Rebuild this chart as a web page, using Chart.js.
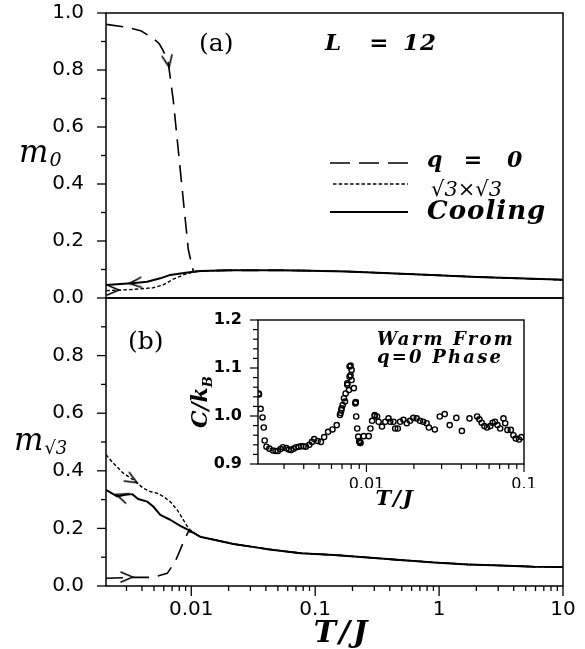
<!DOCTYPE html>
<html><head><meta charset="utf-8">
<script src="https://cdn.jsdelivr.net/npm/chart.js@4"></script>
<style>
html,body{margin:0;padding:0;background:#fff;}
#wrap{position:relative;width:585px;height:649px;overflow:hidden;background:#fff;}
#wrap canvas{position:absolute;left:0;top:0;}
</style></head><body>
<div id="wrap">
<canvas id="panelA" width="585" height="649"></canvas>
<canvas id="panelB" width="585" height="649"></canvas>
<canvas id="inset" width="585" height="649"></canvas>
</div>
<script>
// ---------- data ----------
const T_MIN = 0.00205, T_MAX = 10, T_INSET_MAX = 0.1;

// panel (a): q=0 order parameter m0
const tA_common = [0.0104, 0.012, 0.02, 0.04, 0.0525, 0.09, 0.18, 0.5, 0.855, 2, 5, 10];
const mA_common = [0.092, 0.095, 0.097, 0.097, 0.097, 0.096, 0.093, 0.085, 0.081, 0.074, 0.068, 0.064];
const tA_q0 = [0.00206, 0.003, 0.0039, 0.0049, 0.0055, 0.0059, 0.0065, 0.00715, 0.00785, 0.00862, 0.00946];
const mA_q0 = [0.960, 0.950, 0.938, 0.912, 0.893, 0.870, 0.830, 0.695, 0.520, 0.344, 0.170];
const tA_r3 = [0.00206, 0.0034, 0.00493, 0.00594, 0.00715, 0.00862];
const mA_r3 = [0.026, 0.030, 0.036, 0.046, 0.066, 0.081];
const tA_cool = [0.00206, 0.0035, 0.00441, 0.00562, 0.00676, 0.00846];
const mA_cool = [0.046, 0.053, 0.057, 0.069, 0.081, 0.087];

// panel (b): sqrt3 x sqrt3 order parameter
const tB_common = [0.0104, 0.0118, 0.0219, 0.0412, 0.0761, 0.141, 0.265, 0.489, 0.904, 1.70, 3.15, 5.82, 10];
const mB_common = [0.185, 0.171, 0.146, 0.128, 0.114, 0.108, 0.099, 0.090, 0.082, 0.075, 0.071, 0.067, 0.066];
const tB_q0 = [0.00205, 0.0034, 0.00493, 0.0064, 0.00742, 0.00846, 0.00946];
const mB_q0 = [0.027, 0.030, 0.030, 0.044, 0.085, 0.143, 0.189];
const tB_r3 = [0.00205, 0.00234, 0.00282, 0.0034, 0.00409, 0.00466, 0.00531, 0.00594, 0.00676, 0.00771, 0.00862, 0.00946];
const mB_r3 = [0.456, 0.427, 0.392, 0.369, 0.340, 0.328, 0.322, 0.311, 0.293, 0.264, 0.230, 0.201];
const tB_cool = [0.00205, 0.00252, 0.00293, 0.00333, 0.00373, 0.00441, 0.00493, 0.00562, 0.00676, 0.00815, 0.00946];
const mB_cool = [0.334, 0.311, 0.317, 0.319, 0.302, 0.293, 0.276, 0.247, 0.230, 0.209, 0.195];

// direction arrows along the runs
const arrowA_t = [0.0065, 0.00353, 0.00234];
const arrowA_m = [0.830, 0.053, 0.028];
const arrowB_t = [0.00332, 0.00275, 0.00302];
const arrowB_m = [0.369, 0.311, 0.031];

// inset: specific heat, warming from the q=0 phase
const tIn = [0.00207, 0.00208, 0.00213, 0.00219, 0.00223, 0.00226,
  0.00232, 0.00242, 0.00255, 0.00265, 0.00274, 0.00285, 0.00295, 0.00310, 0.00322, 0.00333,
  0.00345, 0.00358, 0.00372, 0.00385, 0.00399, 0.00413, 0.00434, 0.00451, 0.00466, 0.00490,
  0.00514, 0.00539, 0.00571, 0.00609, 0.00648, 0.00679, 0.00686, 0.00693, 0.00696, 0.00707,
  0.00720, 0.00731, 0.00738, 0.00756, 0.00756, 0.00774, 0.00782, 0.00782, 0.00793, 0.00793,
  0.00805, 0.00805, 0.00832, 0.00850, 0.00853, 0.00856, 0.00861, 0.00874, 0.00887, 0.00900,
  0.00904, 0.00910, 0.00917, 0.00962, 0.01034, 0.0106, 0.01086, 0.01128, 0.01130, 0.01168,
  0.01195, 0.01255, 0.01317, 0.01381, 0.01416, 0.01485, 0.01522, 0.01582, 0.01636, 0.01717,
  0.01803, 0.01891, 0.01984, 0.02084, 0.02186, 0.02293, 0.02409, 0.0249, 0.02716, 0.0292,
  0.0314, 0.03376, 0.0372, 0.04034, 0.04509, 0.0504, 0.0521, 0.05387, 0.05602, 0.05826,
  0.0611, 0.0632, 0.0654, 0.0679, 0.0706, 0.0741, 0.0760, 0.0785, 0.0825, 0.0857,
  0.0887, 0.0930, 0.0962];
const cIn = [1.047, 1.045, 1.015, 0.997, 0.976, 0.949,
  0.936, 0.932, 0.928, 0.927, 0.927, 0.931, 0.935, 0.933, 0.930, 0.929,
  0.932, 0.935, 0.936, 0.937, 0.937, 0.936, 0.940, 0.946, 0.952, 0.948,
  0.946, 0.956, 0.967, 0.972, 0.981, 1.002, 1.006, 1.012, 1.016, 1.023,
  1.037, 1.030, 1.047, 1.065, 1.068, 1.054, 1.082, 1.103, 1.085, 1.105,
  1.096, 1.075, 1.058, 1.026, 1.028, 1.029, 0.999, 0.974, 0.957, 0.948,
  0.946, 0.944, 0.944, 0.958, 0.958, 0.974, 0.990, 1.002, 1.000, 0.999,
  0.988, 0.978, 0.988, 0.995, 0.988, 0.988, 0.974, 0.974, 0.988, 0.992,
  0.985, 0.990, 0.996, 0.995, 0.990, 0.988, 0.985, 0.976, 0.972, 0.999,
  1.004, 0.981, 0.996, 0.969, 0.995, 0.999, 0.993, 0.986, 0.979, 0.976,
  0.979, 0.986, 0.988, 0.981, 0.974, 0.995, 0.985, 0.971, 0.971, 0.960,
  0.953, 0.951, 0.956];

// ticks
const yMajorA = [0, 0.2, 0.4, 0.6, 0.8, 1.0];
const yMajorB = [0, 0.2, 0.4, 0.6, 0.8];
const yMinor = [0.1, 0.3, 0.5, 0.7, 0.9];
const xMajor = [0.01, 0.1, 1, 10];
const xMajorLabels = ['0.01', '0.1', '1', '10'];
const xMinor = [0.003, 0.004, 0.005, 0.006, 0.007, 0.008, 0.009,
  0.02, 0.03, 0.04, 0.05, 0.06, 0.07, 0.08, 0.09,
  0.2, 0.3, 0.4, 0.5, 0.6, 0.7, 0.8, 0.9, 2, 3, 4, 5, 6, 7, 8, 9];
const inYMajor = [0.9, 1.0, 1.1, 1.2];
const inYMinor = [0.92, 0.94, 0.96, 0.98, 1.02, 1.04, 1.06, 1.08, 1.12, 1.14, 1.16, 1.18];
const inXMajor = [0.01, 0.1];
const inXMajorLabels = ['0.01', '0.1'];
const inXMinor = [0.003, 0.004, 0.005, 0.006, 0.007, 0.008, 0.009,
  0.02, 0.03, 0.04, 0.05, 0.06, 0.07, 0.08, 0.09];

// ---------- helpers ----------
const pts = (ts, vs) => ts.map((t, i) => ({ x: t, y: vs[i] }));
const branch = (ts, vs, tc, vc) => pts(ts, vs).concat(pts(tc, vc));

const SERIF = '"DejaVu Serif", serif';
const SANS = '"DejaVu Sans", sans-serif';
const LINE = {
  q0:   { dash: [17, 9], width: 1.6 },
  r3:   { dash: [3.5, 2.2], width: 1.4 },
  cool: { dash: [], width: 2.0 }
};
function lineSet(data, st) {
  return { data, showLine: true, borderColor: '#000', borderWidth: st.width, borderDash: st.dash,
           pointRadius: 0, fill: false, tension: 0, borderCapStyle: 'butt', borderJoinStyle: 'round' };
}

function makeChevron() {
  const c = document.createElement('canvas');
  c.width = 16; c.height = 16;
  const g = c.getContext('2d');
  g.strokeStyle = '#000'; g.lineWidth = 1.4; g.lineCap = 'round';
  g.beginPath(); g.moveTo(2, 3); g.lineTo(14, 8); g.lineTo(2, 13); g.stroke();
  return c;
}
const CHEVRON = makeChevron();
function arrowSet(data, rot) {
  return { data, showLine: false, pointStyle: CHEVRON, pointRadius: 6,
           pointRotation: ctx => rot[ctx.dataIndex] };
}

// label offset is carried by an invisible tick length so that the
// label padding does not push the plot area inward
const hiddenGrid = len => ({ display: false, drawTicks: true, tickLength: len });

// frame, tick marks, annotation text
function decor(cfg) {
  return {
    id: 'decor',
    beforeDraw(chart) {
      if (!cfg.fillArea) return;
      const a = chart.chartArea, ctx = chart.ctx;
      ctx.save(); ctx.fillStyle = '#fff';
      ctx.fillRect(a.left, a.top, a.right - a.left, a.bottom - a.top);
      ctx.restore();
    },
    afterDraw(chart) {
      const ctx = chart.ctx, a = chart.chartArea;
      ctx.save();
      ctx.strokeStyle = '#000'; ctx.fillStyle = '#000';
      ctx.lineWidth = cfg.frameWidth || 1.5;
      ctx.strokeRect(a.left, a.top, a.right - a.left, a.bottom - a.top);
      ctx.lineWidth = cfg.tickWidth || 1.3;
      (cfg.ticks || []).forEach(tk => {
        const s = chart.scales[tk.axis];
        tk.values.forEach(v => {
          const p = s.getPixelForValue(v);
          ctx.beginPath();
          if (tk.axis === 'y') { ctx.moveTo(a.left - tk.len, p); ctx.lineTo(a.left, p); }
          else { ctx.moveTo(p, a.bottom); ctx.lineTo(p, a.bottom + tk.len); }
          ctx.stroke();
        });
      });
      (cfg.legend || []).forEach(lg => {
        ctx.lineWidth = lg.width; ctx.setLineDash(lg.dash);
        ctx.beginPath(); ctx.moveTo(lg.x0, lg.y); ctx.lineTo(lg.x1, lg.y); ctx.stroke();
      });
      ctx.setLineDash([]);
      (cfg.texts || []).forEach(t => {
        ctx.save();
        ctx.font = t.font;
        ctx.textAlign = t.align || 'left';
        ctx.textBaseline = 'alphabetic';
        try { ctx.letterSpacing = t.spacing || '0px'; } catch (e) {}
        ctx.translate(t.x, t.y);
        if (t.rotate) ctx.rotate(t.rotate);
        ctx.fillText(t.text, 0, 0);
        if (t.sub) {
          const w = ctx.measureText(t.text).width;
          ctx.font = t.subFont;
          ctx.textAlign = 'left';
          ctx.fillText(t.sub, w + (t.subDx || 0), t.subDy || 0);
        }
        ctx.restore();
      });
      ctx.restore();
    }
  };
}

const COMMON = { responsive: false, animation: false, events: [], devicePixelRatio: 1 };
const Y_W = 60;
const fmt1 = v => Number(v).toFixed(1);

// ---------- panel (a) ----------
new Chart(document.getElementById('panelA'), {
  type: 'scatter',
  data: { datasets: [
    lineSet(branch(tA_cool, mA_cool, tA_common, mA_common), LINE.cool),
    lineSet(branch(tA_r3, mA_r3, tA_common, mA_common), LINE.r3),
    lineSet(branch(tA_q0, mA_q0, tA_common, mA_common), LINE.q0),
    arrowSet(pts(arrowA_t, arrowA_m), [80, 175, 0])
  ]},
  options: Object.assign({}, COMMON, {
    layout: { padding: { left: 106 - Y_W, top: 13, right: 22, bottom: 351 } },
    plugins: { legend: { display: false }, tooltip: { enabled: false } },
    scales: {
      x: { type: 'logarithmic', min: T_MIN, max: T_MAX, display: false },
      y: { min: 0, max: 1,
           afterFit(s) { s.width = Y_W; },
           afterBuildTicks(s) { s.ticks = yMajorA.map(v => ({ value: v })); },
           grid: hiddenGrid(22), border: { display: false },
           ticks: { padding: 0, color: '#000', font: { family: SANS, size: 20 }, callback: fmt1 } }
    }
  }),
  plugins: [decor({
    ticks: [{ axis: 'y', values: yMajorA, len: 9 }, { axis: 'y', values: yMinor, len: 5 }],
    legend: [
      { x0: 330, x1: 408, y: 163, dash: [20, 9], width: 1.6 },
      { x0: 333, x1: 408, y: 184, dash: [3.5, 2.2], width: 1.4 },
      { x0: 330, x1: 408, y: 212, dash: [], width: 2 }
    ],
    texts: [
      { text: '(a)', x: 199, y: 51, font: '25px ' + SERIF },
      { text: 'L', x: 325, y: 50, font: 'bold italic 23px ' + SERIF },
      { text: '=', x: 379, y: 50, font: 'bold italic 23px ' + SERIF, align: 'center' },
      { text: '12', x: 403, y: 50, font: 'bold italic 23px ' + SERIF, spacing: '1px' },
      { text: 'q', x: 427, y: 167, font: 'bold italic 22px ' + SERIF },
      { text: '=', x: 473, y: 167, font: 'bold italic 22px ' + SERIF, align: 'center' },
      { text: '0', x: 507, y: 167, font: 'bold italic 22px ' + SERIF },
      { text: '√3×√3', x: 431, y: 196, font: 'italic 21px ' + SERIF },
      { text: 'Cooling', x: 427, y: 219, font: 'bold italic 26px ' + SERIF, spacing: '1px' },
      { text: 'm', x: 19, y: 162, font: 'italic 31px ' + SERIF, sub: '0', subFont: 'italic 19px ' + SERIF, subDx: 1, subDy: 4 }
    ]
  })]
});

// ---------- panel (b) ----------
new Chart(document.getElementById('panelB'), {
  type: 'scatter',
  data: { datasets: [
    lineSet(branch(tB_cool, mB_cool, tB_common, mB_common), LINE.cool),
    lineSet(branch(tB_r3, mB_r3, tB_common, mB_common), LINE.r3),
    lineSet(branch(tB_q0, mB_q0, tB_common, mB_common), LINE.q0),
    arrowSet(pts(arrowB_t, arrowB_m), [30, 200, 0])
  ]},
  options: Object.assign({}, COMMON, {
    layout: { padding: { left: 106 - Y_W, top: 298, right: 22, bottom: 23 } },
    plugins: { legend: { display: false }, tooltip: { enabled: false } },
    scales: {
      x: { type: 'logarithmic', min: T_MIN, max: T_MAX,
           afterFit(s) { s.height = 40; },
           afterBuildTicks(s) { s.ticks = xMajor.map(v => ({ value: v })); },
           grid: hiddenGrid(12), border: { display: false },
           ticks: { padding: 0, autoSkip: false, maxRotation: 0, color: '#000',
                    font: { family: SANS, size: 20 },
                    callback: (v, i) => xMajorLabels[i] } },
      y: { min: 0, max: 1,
           afterFit(s) { s.width = Y_W; },
           afterBuildTicks(s) { s.ticks = yMajorB.map(v => ({ value: v })); },
           grid: hiddenGrid(22), border: { display: false },
           ticks: { padding: 0, color: '#000', font: { family: SANS, size: 20 }, callback: fmt1 } }
    }
  }),
  plugins: [decor({
    ticks: [{ axis: 'y', values: yMajorB, len: 9 }, { axis: 'y', values: yMinor, len: 5 },
            { axis: 'x', values: xMajor, len: 10 }, { axis: 'x', values: xMinor, len: 5 }],
    texts: [
      { text: '(b)', x: 128, y: 349, font: '25px ' + SERIF },
      { text: 'm', x: 14, y: 450, font: 'italic 31px ' + SERIF, sub: '√3', subFont: 'italic 18px ' + SERIF, subDx: 1, subDy: 4 },
      { text: 'T/J', x: 342, y: 642, font: 'bold italic 30px ' + SERIF, align: 'center', spacing: '3px' }
    ]
  })]
});

// ---------- inset: specific heat ----------
const IY_W = 50, IX_H = 24;
new Chart(document.getElementById('inset'), {
  type: 'scatter',
  data: { datasets: [{
    data: pts(tIn, cIn), showLine: false, pointStyle: 'circle', pointRadius: 2.6,
    pointBorderWidth: 1.4, borderColor: '#000', backgroundColor: 'rgba(0,0,0,0)'
  }]},
  options: Object.assign({}, COMMON, {
    layout: { padding: { left: 258 - IY_W, top: 320, right: 61, bottom: 649 - 464 - IX_H } },
    plugins: { legend: { display: false }, tooltip: { enabled: false } },
    scales: {
      x: { type: 'logarithmic', min: T_MIN, max: T_INSET_MAX,
           afterFit(s) { s.height = IX_H; },
           afterBuildTicks(s) { s.ticks = inXMajor.map(v => ({ value: v })); },
           grid: hiddenGrid(11), border: { display: false },
           ticks: { padding: 0, autoSkip: false, maxRotation: 0, color: '#000',
                    font: { family: SANS, size: 16 },
                    callback: (v, i) => inXMajorLabels[i] } },
      y: { min: 0.9, max: 1.2,
           afterFit(s) { s.width = IY_W; },
           afterBuildTicks(s) { s.ticks = inYMajor.map(v => ({ value: v })); },
           grid: hiddenGrid(16), border: { display: false },
           ticks: { padding: 0, color: '#000', font: { family: SANS, size: 16, weight: 'bold' }, callback: fmt1 } }
    }
  }),
  plugins: [decor({
    fillArea: true,
    frameWidth: 1.4,
    tickWidth: 1.2,
    ticks: [{ axis: 'y', values: inYMajor, len: 8 }, { axis: 'y', values: inYMinor, len: 5 },
            { axis: 'x', values: inXMajor, len: 8 }, { axis: 'x', values: inXMinor, len: 5 }],
    texts: [
      { text: 'Warm From', x: 377, y: 345, font: 'bold italic 18px ' + SERIF, spacing: '2.2px' },
      { text: 'q=0 Phase', x: 377, y: 363, font: 'bold italic 18px ' + SERIF, spacing: '2.2px' },
      { text: 'T/J', x: 395, y: 505, font: 'bold italic 21px ' + SERIF, align: 'center', spacing: '2px' },
      { text: 'C/k', x: 207, y: 428, rotate: -Math.PI / 2, font: 'bold italic 22px ' + SERIF,
        sub: 'B', subFont: 'bold italic 13px ' + SERIF, subDx: 0, subDy: 5 }
    ]
  })]
});
</script>
</body></html>
